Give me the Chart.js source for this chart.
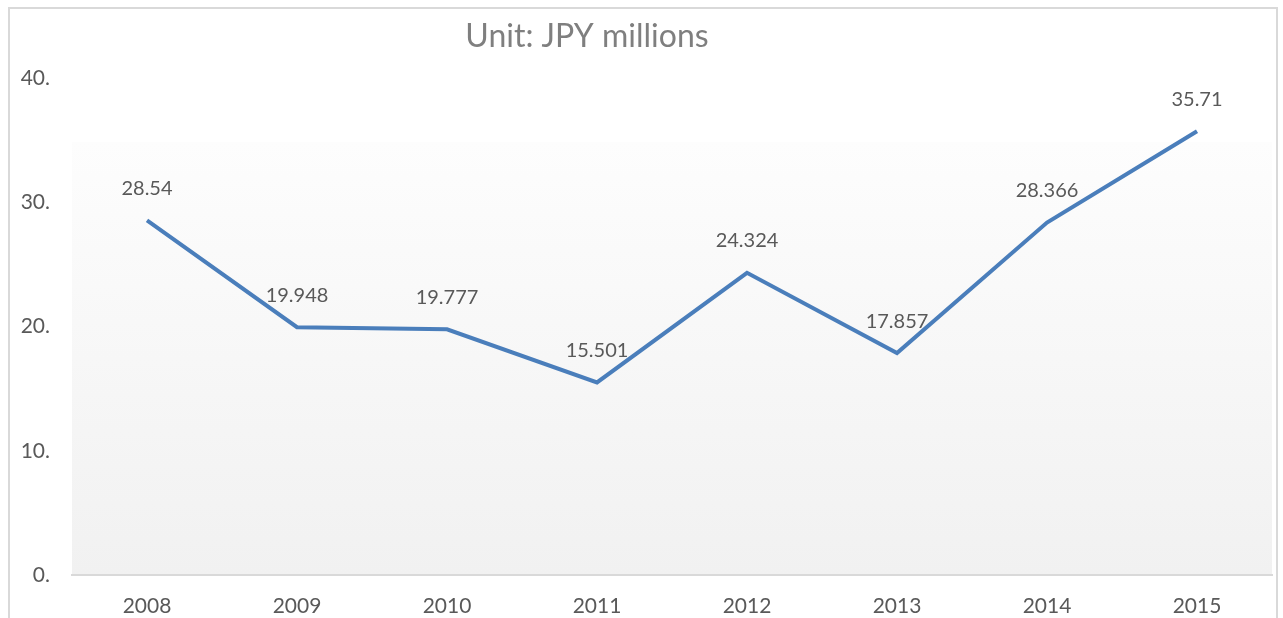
<!DOCTYPE html>
<html>
<head>
<meta charset="utf-8">
<script src="https://cdn.jsdelivr.net/npm/chart.js@4"></script>
<style>
  html, body { margin: 0; padding: 0; background: #fff; }
  #wrap { width: 1283px; height: 618px; }
</style>
</head>
<body>
<div id="wrap"><canvas id="grafico"></canvas></div>
<script>
const years = ['2008', '2009', '2010', '2011', '2012', '2013', '2014', '2015'];
const values = [28.54, 19.948, 19.777, 15.501, 24.324, 17.857, 28.366, 35.71];
const valueLabels = ['28.54', '19.948', '19.777', '15.501', '24.324', '17.857', '28.366', '35.71'];
const titleText = 'Unit: JPY millions';

const fontFamily = 'Lato, "Open Sans", sans-serif';

// fundo, moldura e titulo
const frame = {
    id: 'frame',
    beforeDraw(chart) {
        const { ctx, chartArea } = chart;
        ctx.save();
        ctx.fillStyle = '#ffffff';
        ctx.fillRect(0, 0, chart.width, chart.height);
        const top = chartArea.top + 64;
        const grad = ctx.createLinearGradient(0, top, 0, chartArea.bottom);
        grad.addColorStop(0, '#fdfdfd');
        grad.addColorStop(1, '#f1f1f1');
        ctx.fillStyle = grad;
        ctx.fillRect(chartArea.left, top, chartArea.right - chartArea.left, chartArea.bottom - top);
        ctx.strokeStyle = '#d9d9d9';
        ctx.lineWidth = 2;
        ctx.strokeRect(9, 8, 1268, 640);
        ctx.restore();
    },
    afterDraw(chart) {
        const { ctx } = chart;
        ctx.save();
        ctx.font = '32px ' + fontFamily;
        ctx.fillStyle = '#7f7f7f';
        ctx.textAlign = 'center';
        ctx.textBaseline = 'middle';
        ctx.fillText(titleText, 587, 37);
        ctx.restore();
    }
};

// rotulos de valor acima dos pontos
const valueTags = {
    id: 'valueTags',
    afterDatasetsDraw(chart) {
        const { ctx } = chart;
        const meta = chart.getDatasetMeta(0);
        ctx.save();
        ctx.font = '20px ' + fontFamily;
        ctx.fillStyle = '#595959';
        ctx.textAlign = 'center';
        ctx.textBaseline = 'middle';
        meta.data.forEach((pt, i) => {
            ctx.fillText(valueLabels[i], pt.x, pt.y - 32);
        });
        ctx.restore();
    }
};

new Chart(document.getElementById('grafico'), {
    type: 'line',
    data: {
        labels: years,
        datasets: [{
            data: values,
            borderColor: '#4a7ebb',
            borderWidth: 4,
            pointRadius: 0,
            tension: 0,
            fill: false
        }]
    },
    options: {
        responsive: true,
        maintainAspectRatio: false,
        animation: false,
        layout: { padding: { top: 78, right: 11, left: 0, bottom: 0 } },
        plugins: {
            legend: { display: false },
            tooltip: { enabled: false },
            title: { display: false }
        },
        scales: {
            x: {
                offset: true,
                grid: { display: false, drawTicks: false },
                border: { display: true, color: '#d9d9d9', width: 2 },
                ticks: {
                    color: '#595959',
                    font: { family: fontFamily, size: 21 },
                    padding: 19,
                    maxRotation: 0
                },
                afterFit(scale) { scale.height = 43; }
            },
            y: {
                min: 0,
                max: 40,
                grid: { display: false, drawTicks: false },
                border: { display: false },
                ticks: {
                    stepSize: 10,
                    color: '#595959',
                    font: { family: fontFamily, size: 21 },
                    padding: 22,
                    callback: (v) => v + '.'
                },
                afterFit(scale) { scale.width = 72; }
            }
        }
    },
    plugins: [frame, valueTags]
});
</script>
</body>
</html>
